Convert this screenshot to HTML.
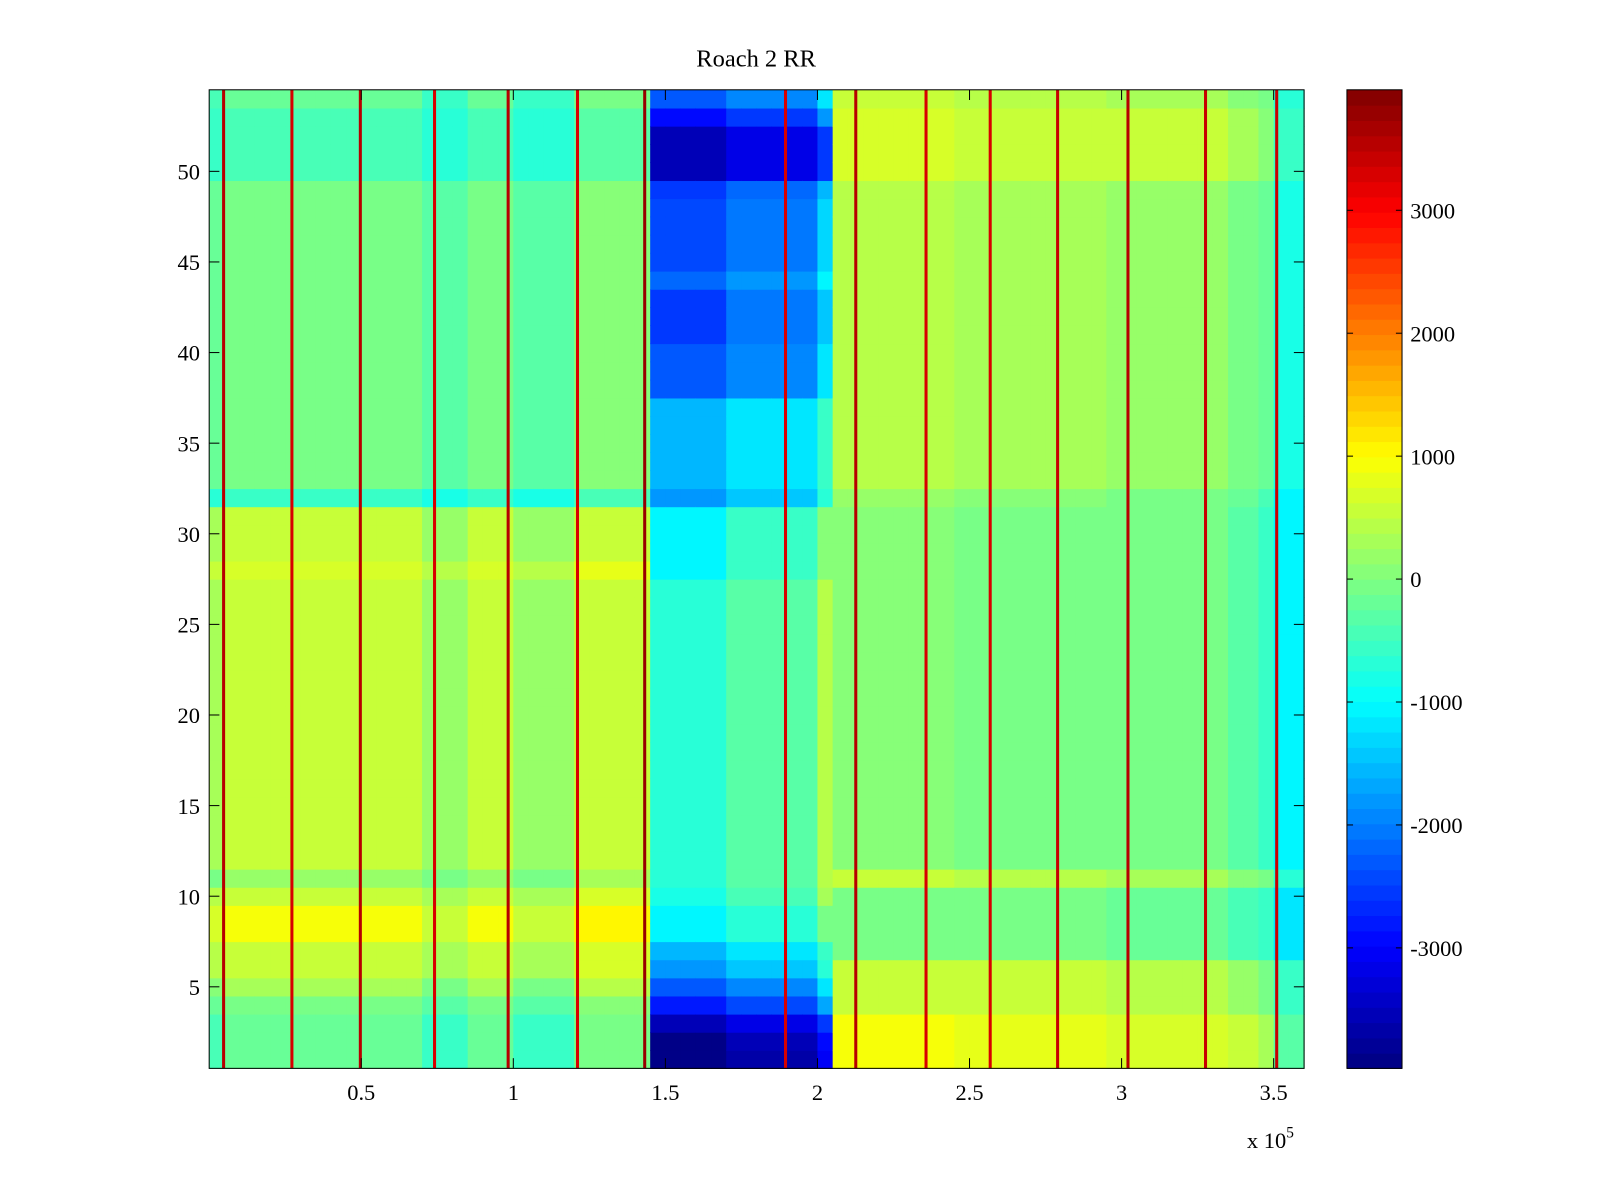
<!DOCTYPE html>
<html><head><meta charset="utf-8"><style>
html,body{margin:0;padding:0;background:#fff;}
svg{display:block;font-family:"Liberation Serif",serif;}
</style></head><body>
<svg id="fig" width="1600" height="1200" viewBox="0 0 1600 1200">
<rect x="0" y="0" width="1600" height="1200" fill="#fff"/>
<g transform="scale(1.0204)">
<text x="741" y="65" font-size="24" text-anchor="middle">Roach 2 RR</text>
<g id="heat"></g>
<g id="axes"></g>
<g id="cbar"></g>
</g>
</svg>
<script>
// ---- data ----
const xMin = 0, xMax = 360000, colWidth = 5000;
const yMin = 0.5, yMax = 54.5;
const cMin = -3980, cMax = 3980;
const colBase = [-200,0,0,0,0,0,0,0,0,0,0,0,0,0,-300,-300,-300,0,0,0,-300,-300,-300,-300,100,100,100,100,100,
  -300,-300,-300,-300,-300,100,100,100,100,100,100,800,
  200,200,200,200,200,200,200,200,100,100,100,100,100,100,100,100,100,100,0,0,0,0,0,0,0,0,-200,-200,-400,-1000,-1000];
const leftRows = [-200,-200,-200,0,300,600,600,900,900,600,200,500,500,500,500,500,500,500,500,500,500,500,500,500,500,500,500,700,500,500,500,-500,
  0,0,0,0,0,0,0,0,0,0,0,0,0,0,0,0,0,-400,-400,-400,-400,-200];
const midRows = [-3800,-3700,-3300,-2500,-2000,-1500,-1300,-800,-800,-500,-400,-400,-400,-400,-400,-400,-400,-400,-400,-400,-400,-400,-400,-400,-400,-400,-400,-700,-700,-700,-700,-1500,
  -1300,-1300,-1300,-1300,-1300,-2000,-2000,-2000,-2200,-2200,-2200,-1900,-2100,-2100,-2100,-2100,-2300,-3300,-3300,-3300,-2600,-2000];
const rightRows = [700,700,700,400,400,400,-200,-200,-200,-200,300,-100,-100,-100,-100,-100,-100,-100,-100,-100,-100,-100,-100,-100,-100,-100,-100,-100,-100,-100,-100,0,
  200,200,200,200,200,200,200,200,200,200,200,200,200,200,200,200,200,500,500,500,500,300];
const regionEdges = [145000, 205000];
const stripeX = [4740,27200,49700,74100,98300,121100,143200,189500,212600,235700,256800,278960,302100,327600,351000];
const stripeVal = [3600,3300,3500,3300,3500,3300,3800,3300,3500,3300,3300,3400,3500,3400,3400];
const stripeW = 1000;
const xTicks = [50000,100000,150000,200000,250000,300000,350000];
const xTickLabels = ["0.5","1","1.5","2","2.5","3","3.5"];
const yTicks = [5,10,15,20,25,30,35,40,45,50];
const cTicks = [-3000,-2000,-1000,0,1000,2000,3000];

// ---- layout ----
const PL=205, PR=1278, PT=88, PB=1047;
const CBL=1320, CBR=1374;
const NS="http://www.w3.org/2000/svg";
const sx = v => PL + (v - xMin) / (xMax - xMin) * (PR - PL);
const sy = v => PB - (v - yMin) / (yMax - yMin) * (PB - PT);
const sc = v => PB - (v - cMin) / (cMax - cMin) * (PB - PT);
function jet(v){
  let t=(v-cMin)/(cMax-cMin); t=Math.max(0,Math.min(1,t));
  t=(Math.floor(t*63.999)+0.5)/64;
  const f=x=>Math.max(0,Math.min(1,x));
  const r=f(Math.min(4*t-1.5,-4*t+4.5)), g=f(Math.min(4*t-0.5,-4*t+3.5)), b=f(Math.min(4*t+0.5,-4*t+2.5));
  return `rgb(${Math.round(r*255)},${Math.round(g*255)},${Math.round(b*255)})`;
}
function mk(tag, attrs, parent){const e=document.createElementNS(NS,tag);for(const k in attrs)e.setAttribute(k,attrs[k]);parent.appendChild(e);return e;}

const heat=document.getElementById('heat');
for(let c=0;c<colBase.length;c++){
  const x0=c*colWidth, xc=x0+colWidth/2;
  const rows = xc<regionEdges[0]?leftRows:(xc<regionEdges[1]?midRows:rightRows);
  for(let r=0;r<rows.length;r++){
    const y=r+1;
    const v=colBase[c]+rows[r];
    const el=mk('rect',{x:sx(x0),y:sy(y+0.5),width:sx(x0+colWidth)-sx(x0)+0.6,height:sy(y-0.5)-sy(y+0.5)+0.6,fill:jet(v)},heat);
    
    
  }
}
for(let i=0;i<stripeX.length;i++){
  const el=mk('rect',{x:sx(stripeX[i]-stripeW/2),y:PT,width:sx(stripeW)-sx(0),height:PB-PT,fill:jet(stripeVal[i])},heat);
  
  
}

const axes=document.getElementById('axes');
mk('rect',{x:PL,y:PT,width:PR-PL,height:PB-PT,fill:'none',stroke:'#000','stroke-width':1},axes);
xTicks.forEach((t,i)=>{
  const X=sx(t);
  mk('line',{x1:X,y1:PB,x2:X,y2:PB-10,stroke:'#000'},axes);
  mk('line',{x1:X,y1:PT,x2:X,y2:PT+10,stroke:'#000'},axes);
  const tx=mk('text',{x:X,y:1078,'font-size':22,'text-anchor':'middle'},axes);
  tx.textContent=xTickLabels[i];
  
  
});
yTicks.forEach(t=>{
  const Y=sy(t);
  mk('line',{x1:PL,y1:Y,x2:PL+10,y2:Y,stroke:'#000'},axes);
  mk('line',{x1:PR,y1:Y,x2:PR-10,y2:Y,stroke:'#000'},axes);
  const tx=mk('text',{x:196,y:Y+8,'font-size':22,'text-anchor':'end'},axes);
  tx.textContent=String(t);
  
  
});
const ex=mk('text',{x:1222,y:1125,'font-size':22},axes);
ex.innerHTML='x 10<tspan dy="-10" font-size="15">5</tspan>';



const cbar=document.getElementById('cbar');
for(let k=0;k<64;k++){
  const v0=cMin+(cMax-cMin)*k/64, v1=cMin+(cMax-cMin)*(k+1)/64;
  const el=mk('rect',{x:CBL,y:sc(v1),width:CBR-CBL,height:sc(v0)-sc(v1)+0.6,fill:jet((v0+v1)/2)},cbar);
  
  
}
mk('rect',{x:CBL,y:PT,width:CBR-CBL,height:PB-PT,fill:'none',stroke:'#000'},cbar);
cTicks.forEach(t=>{
  const Y=sc(t);
  mk('line',{x1:CBL,y1:Y,x2:CBL+6,y2:Y,stroke:'#000'},cbar);
  mk('line',{x1:CBR,y1:Y,x2:CBR-6,y2:Y,stroke:'#000'},cbar);
  const tx=mk('text',{x:1382,y:Y+8,'font-size':22},cbar);
  tx.textContent=String(t);
  
  
});
</script>
</body></html>
